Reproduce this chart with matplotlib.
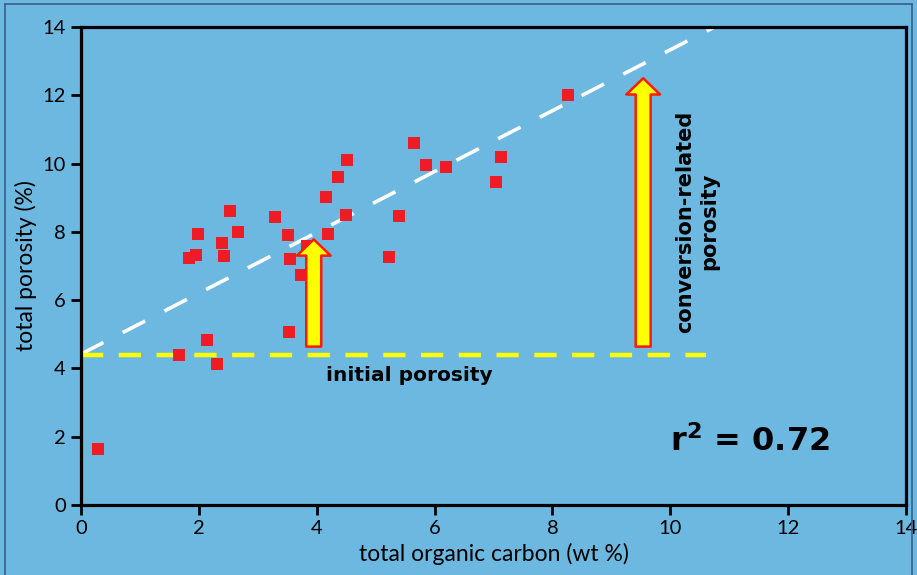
import matplotlib
matplotlib.use("Agg")
import matplotlib.pyplot as plt
from matplotlib.lines import Line2D

# total organic carbon (wt %) vs total porosity (%)
toc = [0.29, 1.67, 2.14, 2.30, 1.83, 1.96, 1.99, 2.40, 2.42, 2.53, 2.67,
       3.29, 3.51, 3.53, 3.55, 3.74, 3.83, 4.15, 4.20, 4.37, 4.49, 4.52,
       5.23, 5.39, 5.65, 5.85, 6.19, 7.05, 7.13, 8.26]
porosity = [1.64, 4.39, 4.83, 4.13, 7.23, 7.32, 7.93, 7.68, 7.30, 8.60, 7.99,
            8.44, 7.91, 5.08, 7.20, 6.74, 7.60, 9.03, 7.95, 9.60, 8.49, 10.10,
            7.27, 8.47, 10.60, 9.95, 9.91, 9.45, 10.18, 12.02]

fit_x = [0.0, 10.75]
fit_y = [4.42, 14.0]
initial_x = [0.0, 10.6]
initial_y = [4.38, 4.38]

# arrows: x, base, tip
arrow_x = [3.95, 9.54]
arrow_base = [4.64, 4.64]
arrow_tip = [7.78, 12.5]

ticks = [0, 2, 4, 6, 8, 10, 12, 14]
BG = "#6db8e0"

fig = plt.figure(figsize=(9.17, 5.75), dpi=100, facecolor=BG)
ax = fig.add_axes([0.0883, 0.1217, 0.8997, 0.8313], facecolor=BG)

ax.plot(fit_x, fit_y, color="white", lw=2.6, dashes=(7, 6), zorder=2)
ax.plot(initial_x, initial_y, color="#ffff00", lw=3.2, dashes=(5, 3.5), zorder=2)
ax.scatter(toc, porosity, marker="s", s=75, color="#ee1c25", linewidths=0, zorder=3)

for x, b, t in zip(arrow_x, arrow_base, arrow_tip):
    ax.annotate("", xy=(x, t), xytext=(x, b),
                arrowprops=dict(arrowstyle="simple,head_length=0.65,head_width=1.35,tail_width=0.6",
                                mutation_scale=18, fc="#ffff00", ec="#ff1a00", lw=1.8,
                                shrinkA=0, shrinkB=0), zorder=4)

ax.text(10.45, 8.3, "conversion-related\nporosity", rotation=90, ha="center", va="center",
        fontsize=15, fontweight="bold", linespacing=1.25)
ax.text(5.58, 3.78, "initial porosity", ha="center", va="center", fontsize=14.5, fontweight="bold")
ax.text(11.35, 1.87, r"r$^\mathbf{2}$ = 0.72", ha="center", va="center", fontsize=23, fontweight="bold")

ax.set_xlim(0, 14)
ax.set_ylim(0, 14)
ax.set_xticks(ticks)
ax.set_yticks(ticks)
for s in ax.spines.values():
    s.set_linewidth(2.3)
ax.tick_params(direction="out", length=7, width=2, labelsize=14.5, pad=4)
for lab in ax.get_xticklabels() + ax.get_yticklabels():
    lab.set_family("Lato")
ax.set_xlabel("total organic carbon (wt %)", fontsize=16.5, family="Lato", labelpad=4)
ax.set_ylabel("total porosity (%)", fontsize=16.5, family="Lato", labelpad=4)

# thin frame round the picture
frame = dict(color="#3b5f86", lw=1.2, transform=fig.transFigure)
fig.add_artist(Line2D([0.005, 0.995], [0.993, 0.993], **frame))
fig.add_artist(Line2D([0.005, 0.005], [0.0, 0.993], **frame))
fig.add_artist(Line2D([0.995, 0.995], [0.0, 0.993], **frame))

fig.savefig("out.png", dpi=100, facecolor=BG)
